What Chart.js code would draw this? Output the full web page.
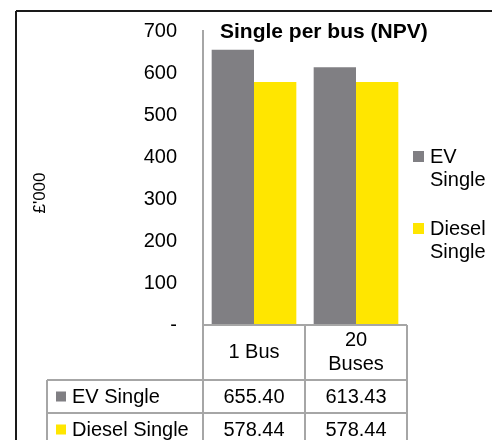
<!DOCTYPE html>
<html>
<head>
<meta charset="utf-8">
<script src="https://cdn.jsdelivr.net/npm/chart.js@4"></script>
<style>
  html, body { margin: 0; padding: 0; background: #fff; }
  #wrap { width: 492px; height: 440px; }
</style>
</head>
<body>
<div id="wrap"><canvas id="myChart" width="492" height="440"></canvas></div>
<script>
const categories = [['1 Bus'], ['20', 'Buses']];
const seriesNames = ['EV Single', 'Diesel Single'];
const evSingle = [655.40, 613.43];
const dieselSingle = [578.44, 578.44];
const yTicks = [0, 100, 200, 300, 400, 500, 600, 700];
const chartTitle = 'Single per bus (NPV)';
const yTitle = "£'000";

const colors = ['#807F83', '#FFE600'];
const font = '"Liberation Sans", Arial, sans-serif';
const lineGrey = '#A6A6A6';

// table + legend + frame drawn on the canvas after the bars
const tablePlugin = {
    id: 'tablePlugin',
    afterDraw(chart) {
        const ctx = chart.ctx;
        const area = chart.chartArea;
        const x = chart.scales.x;
        const colW = x.getPixelForValue(1) - x.getPixelForValue(0);
        const rowTop = area.bottom;
        const catBottom = rowTop + 55;
        const rowH = 33;
        const tableLeft = 47;
        const right = x.getPixelForValue(categories.length - 1) + colW / 2;
        const series = [evSingle, dieselSingle];

        ctx.save();

        // frame
        ctx.strokeStyle = '#1a1a1a';
        ctx.lineWidth = 2;
        ctx.beginPath();
        ctx.moveTo(16, 11); ctx.lineTo(492, 11);
        ctx.moveTo(16, 11); ctx.lineTo(16, 440);
        ctx.stroke();

        // title
        ctx.fillStyle = '#000';
        ctx.font = 'bold 21px ' + font;
        ctx.textAlign = 'left';
        ctx.textBaseline = 'middle';
        ctx.fillText(chartTitle, 220, 32);

        // y title
        ctx.save();
        ctx.translate(40, 193);
        ctx.rotate(-Math.PI / 2);
        ctx.font = '17px ' + font;
        ctx.textAlign = 'center';
        ctx.fillText(yTitle, 0, 0);
        ctx.restore();

        // table lines
        ctx.strokeStyle = lineGrey;
        ctx.lineWidth = 2;
        ctx.beginPath();
        ctx.moveTo(area.left, rowTop); ctx.lineTo(right, rowTop);
        for (let r = 0; r < series.length; r++) {
            const yy = catBottom + r * rowH;
            ctx.moveTo(tableLeft, yy); ctx.lineTo(right, yy);
        }
        ctx.moveTo(tableLeft, catBottom); ctx.lineTo(tableLeft, 440);
        for (let c = 0; c <= categories.length; c++) {
            const xx = area.left + c * colW;
            ctx.moveTo(xx, rowTop); ctx.lineTo(xx, 440);
        }
        ctx.stroke();

        // category labels
        ctx.fillStyle = '#000';
        ctx.font = '20px ' + font;
        ctx.textAlign = 'center';
        categories.forEach((lines, i) => {
            const cx = x.getPixelForValue(i);
            const mid = (rowTop + catBottom) / 2;
            lines.forEach((t, j) => {
                ctx.fillText(t, cx, mid + (j - (lines.length - 1) / 2) * 24);
            });
        });

        // rows
        series.forEach((vals, r) => {
            const mid = catBottom + r * rowH + rowH / 2;
            ctx.fillStyle = colors[r];
            ctx.fillRect(56, mid - 5, 10, 10);
            ctx.fillStyle = '#000';
            ctx.textAlign = 'left';
            ctx.fillText(seriesNames[r], 72, mid + 1);
            ctx.textAlign = 'center';
            vals.forEach((v, i) => {
                ctx.fillText(v.toFixed(2), x.getPixelForValue(i), mid + 1);
            });
        });

        // legend on the right
        seriesNames.forEach((name, r) => {
            const top = 157 + r * 72;
            ctx.fillStyle = colors[r];
            ctx.fillRect(413, top - 6, 11, 11);
            ctx.fillStyle = '#000';
            ctx.textAlign = 'left';
            name.split(' ').forEach((t, j) => {
                ctx.fillText(t, 430, top + j * 23);
            });
        });

        ctx.restore();
    }
};

new Chart(document.getElementById('myChart'), {
    type: 'bar',
    data: {
        labels: categories,
        datasets: [
            { label: seriesNames[0], data: evSingle, backgroundColor: colors[0] },
            { label: seriesNames[1], data: dieselSingle, backgroundColor: colors[1] }
        ]
    },
    options: {
        responsive: false,
        animation: false,
        devicePixelRatio: 1,
        categoryPercentage: 0.83,
        barPercentage: 1,
        layout: { padding: { top: 31, bottom: 115, left: 0, right: 85 } },
        plugins: {
            legend: { display: false },
            title: { display: false },
            tooltip: { enabled: false }
        },
        scales: {
            x: { display: false },
            y: {
                min: 0,
                max: 700,
                afterBuildTicks: (scale) => {
                    scale.ticks = yTicks.map((v) => ({ value: v }));
                },
                afterFit: (scale) => {
                    scale.width = 203;
                    scale.paddingTop = 0;
                    scale.paddingBottom = 0;
                },
                grid: { display: false, drawTicks: false },
                border: { display: true, color: lineGrey, width: 2 },
                ticks: {
                    padding: 26,
                    color: '#000',
                    font: { family: font, size: 20 },
                    callback: (v) => (v === 0 ? '-' : v)
                }
            }
        }
    },
    plugins: [tablePlugin]
});
</script>
</body>
</html>
